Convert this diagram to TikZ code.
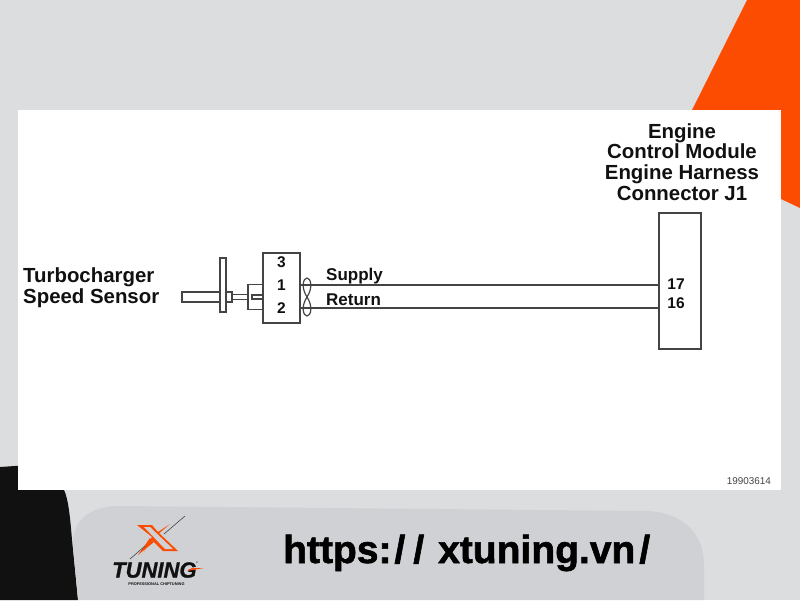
\documentclass[tikz,border=0pt]{standalone}
\usepackage{fontspec}
\setmainfont{Liberation Sans}
\usepackage{tikz}
\usetikzlibrary{positioning}
\definecolor{pagegray}{HTML}{DCDDDF}
\definecolor{pillgray}{HTML}{D0D1D4}
\definecolor{xorange}{HTML}{FB4C02}
\definecolor{inkblack}{HTML}{111111}
\definecolor{wiregray}{HTML}{444444}
\newcommand{\fsize}[1]{\fontsize{#1}{#1}\selectfont}

\begin{document}
\begin{tikzpicture}[
    x = 1pt, y = -1pt,
    box/.style =
    { shape      = rectangle,
      draw       = wiregray,
      fill       = white,
      line width = 1.2pt,
      inner sep  = 0pt },
    wire/.style =
    { draw       = wiregray,
      line width = 1.2pt },
    label/.style =
    { align     = center,
      inner sep = 0pt,
      text      = inkblack,
      font      = \fsize{20.4}\bfseries },
    pin/.style =
    { inner sep = 0pt,
      text      = inkblack,
      font      = \fsize{15.5}\bfseries },
    wirename/.style =
    { anchor    = west,
      inner sep = 0pt,
      text      = inkblack,
      font      = \fsize{17}\bfseries }
  ]
  \useasboundingbox (0,0) rectangle (800,600);

  % backdrop
  \fill[pagegray] (0,0) rectangle (800,600);
  \fill[xorange] (747,0) -- (800,0) -- (800,208) -- (781,199) -- (692,110) -- cycle;
  \fill[inkblack] (0,467) -- (30,465) -- (50,480) -- (64,490)
    .. controls (68,498) and (70,515) .. (72,540) -- (78,600) -- (0,600) -- cycle;
  \fill[pillgray] (78,600) -- (73,545)
    .. controls (72,520) and (90,506) .. (120,506)
    -- (645,511) .. controls (685,512) and (704,535) .. (704,565) -- (704,600) -- cycle;
  \fill[white] (18,110) rectangle (781,490);

  % sensor
  \node[box, minimum width = 38pt, minimum height = 10pt] (body) at (201,297) {};
  \node[box, minimum width = 6pt, minimum height = 54pt] (flange) at (223,285) {};
  \node[box, minimum width = 6pt, minimum height = 10pt, right = -1.2pt of flange.east |- body] (collar) {};
  \node[box, minimum width = 16pt, minimum height = 5pt, right = -1.2pt of collar] (shaft) {};
  \node[box, minimum width = 15pt, minimum height = 25pt, right = -1.2pt of shaft] (plug) {};
  \node[box, minimum width = 37pt, minimum height = 70pt] (conn) at (281.5,288) {};
  \node[box, minimum width = 11pt, minimum height = 4pt, left = -1.2pt of conn.west |- shaft] (blade) {};

  \node[pin] (p3) at (281.5,262) {3};
  \node[pin] (p1) at (281.5,285) {1};
  \node[pin] (p2) at (281.5,308) {2};

  % module
  \node[box, minimum width = 42pt, minimum height = 136pt] (ecm) at (680,281) {};
  \node[pin] (p17) at (676,284) {17};
  \node[pin] (p16) at (676,303.5) {16};

  \coordinate (c1) at (conn.east |- p1);
  \coordinate (c2) at (conn.east |- p2);
  \coordinate (e17) at (ecm.west |- p1);
  \coordinate (e16) at (ecm.west |- p2);
  \path[wire] (c1) -- (e17);
  \path[wire] (c2) -- (e16);

  % twist
  \coordinate (tw) at (307,297);
  \path[wire] (tw) .. controls (301,288) and (303,278) .. (307,278)
    .. controls (311,278) and (313,288) .. (tw)
    .. controls (301,306) and (303,316) .. (307,316)
    .. controls (311,316) and (313,306) .. (tw);

  % labels
  \node[label, anchor = west] (sensorname) at (23,288) {\makebox[137pt][l]{Turbocharger}\\[0.3pt]\makebox[137pt][l]{Speed Sensor}};
  \node[label] (ecmname) at (682,162) {Engine\\[0.3pt]Control Module\\[0.3pt]Engine Harness\\[0.3pt]Connector J1};
  \node[wirename] (supply) at (326,276.5) {Supply};
  \node[wirename] (return) at (326,300) {Return};
  \node[anchor = east, inner sep = 0pt, text = wiregray, font = \fsize{9.9}] (drawno) at (771,481) {19903614};

  % logo
  \fill[xorange] (137,525) -- (152,525) -- (158,532) -- (170,524) -- (150,541)
    -- (144,552) -- (152,537) -- cycle;
  \fill[xorange] (158,532) -- (178,551) -- (163,551) -- (151,539) -- cycle;
  \fill[pillgray] (144,527) -- (150,527) -- (173,549) -- (165,549) -- cycle;
  \fill[xorange] (150,538) -- (154,542) -- (138,555) -- cycle;
  \draw[wiregray, line width = 0.6pt] (185,516) -- (164,534);
  \draw[wiregray, line width = 0.6pt] (145,546) -- (130,559);
  \node[anchor = west, inner sep = 0pt, text = inkblack,
        font = \addfontfeatures{FakeBold=1}\fsize{22}\bfseries\itshape] (tuning) at (112,570) {TUNING};
  \node[anchor = west, inner sep = 0pt, text = inkblack, font = \fsize{2.5}] (reg) at (196,562.5) {\textregistered};
  \fill[xorange] (187,571) -- (204,568) -- (192,568) -- cycle;
  \node[inner sep = 0pt, text = inkblack, font = \fsize{3.9}\bfseries] (tagline) at (156.5,584) {PROFESSIONAL CHIPTUNING};

  % address
  \node[anchor = west, inner sep = 0pt, text = black,
        font = \addfontfeatures{FakeBold=1.5}\fsize{39}\bfseries] (site) at (283,553)
    {https:\kern3pt/\kern8pt/\kern14pt xtuning.vn\kern4pt/};
\end{tikzpicture}
\end{document}
